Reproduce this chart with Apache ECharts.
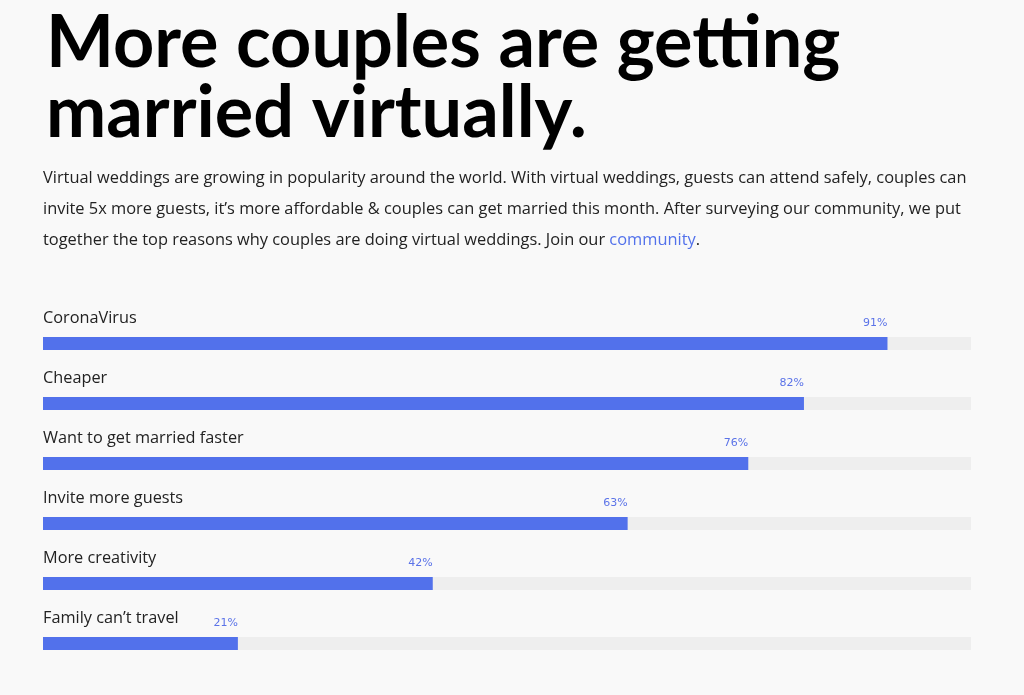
<!DOCTYPE html>
<html>
<head>
<meta charset="utf-8">
<script src="https://cdn.jsdelivr.net/npm/echarts@6/dist/echarts.min.js"></script>
<style>
html,body{margin:0;padding:0;background:#f9f9f9;}
#main{width:1024px;height:695px;}
</style>
</head>
<body>
<div id="main"></div>
<script>
const titleLines = ['More couples are getting', 'married virtually.'];
const introLines = [
  'Virtual weddings are growing in popularity around the world. With virtual weddings, guests can attend safely, couples can',
  'invite 5x more guests, it\u2019s more affordable & couples can get married this month. After surveying our community, we put',
  'together the top reasons why couples are doing virtual weddings. Join our '
];
const linkText = 'community';
const categories = ['CoronaVirus', 'Cheaper', 'Want to get married faster', 'Invite more guests', 'More creativity', 'Family can\u2019t travel'];
const values = [91, 82, 76, 63, 42, 21];
const trackValues = [100, 100, 100, 100, 100, 100];

const chart = echarts.init(document.getElementById('main'));
const introRich = introLines[0] + '\n' + introLines[1] + '\n' + introLines[2] + '{link|' + linkText + '}.';
chart.setOption({
  backgroundColor: '#f9f9f9',
  animation: false,
  title: {
    text: titleLines.join('\n'),
    left: 41,
    top: 4,
    textStyle: { fontFamily: 'Lato', fontWeight: 'bold', fontSize: 72, lineHeight: 70, color: '#000' }
  },
  graphic: [{
    type: 'text',
    left: 43,
    top: 163,
    style: {
      text: introRich,
      fontFamily: 'Open Sans',
      fontSize: 16.4,
      lineHeight: 31,
      fill: '#222',
      rich: { link: { fill: '#5271eb', fontFamily: 'Open Sans', fontSize: 16.4, lineHeight: 31 } }
    }
  }],
  grid: { left: 43, right: 53, top: 313.5, bottom: 21.5 },
  xAxis: { type: 'value', min: 0, max: 100, show: false },
  yAxis: { type: 'category', data: categories, inverse: true, show: false },
  series: [
    {
      type: 'bar',
      data: trackValues,
      barWidth: 13,
      barGap: '-100%',
      itemStyle: { color: '#eeeeee' },
      silent: true,
      label: {
        show: true,
        formatter: '{b}',
        position: [0, -19],
        verticalAlign: 'middle',
        align: 'left',
        fontFamily: 'Open Sans',
        fontSize: 16.3,
        color: '#222'
      },
      z: 1
    },
    {
      type: 'bar',
      data: values,
      barWidth: 13,
      barGap: '-100%',
      itemStyle: { color: '#5271eb' },
      label: {
        show: true,
        position: 'insideTopRight',
        distance: 0,
        offset: [0, -19],
        formatter: '{c}%',
        fontFamily: 'DejaVu Sans',
        fontSize: 11,
        color: '#5b73e8'
      },
      z: 2
    }
  ]
});
</script>
</body>
</html>
